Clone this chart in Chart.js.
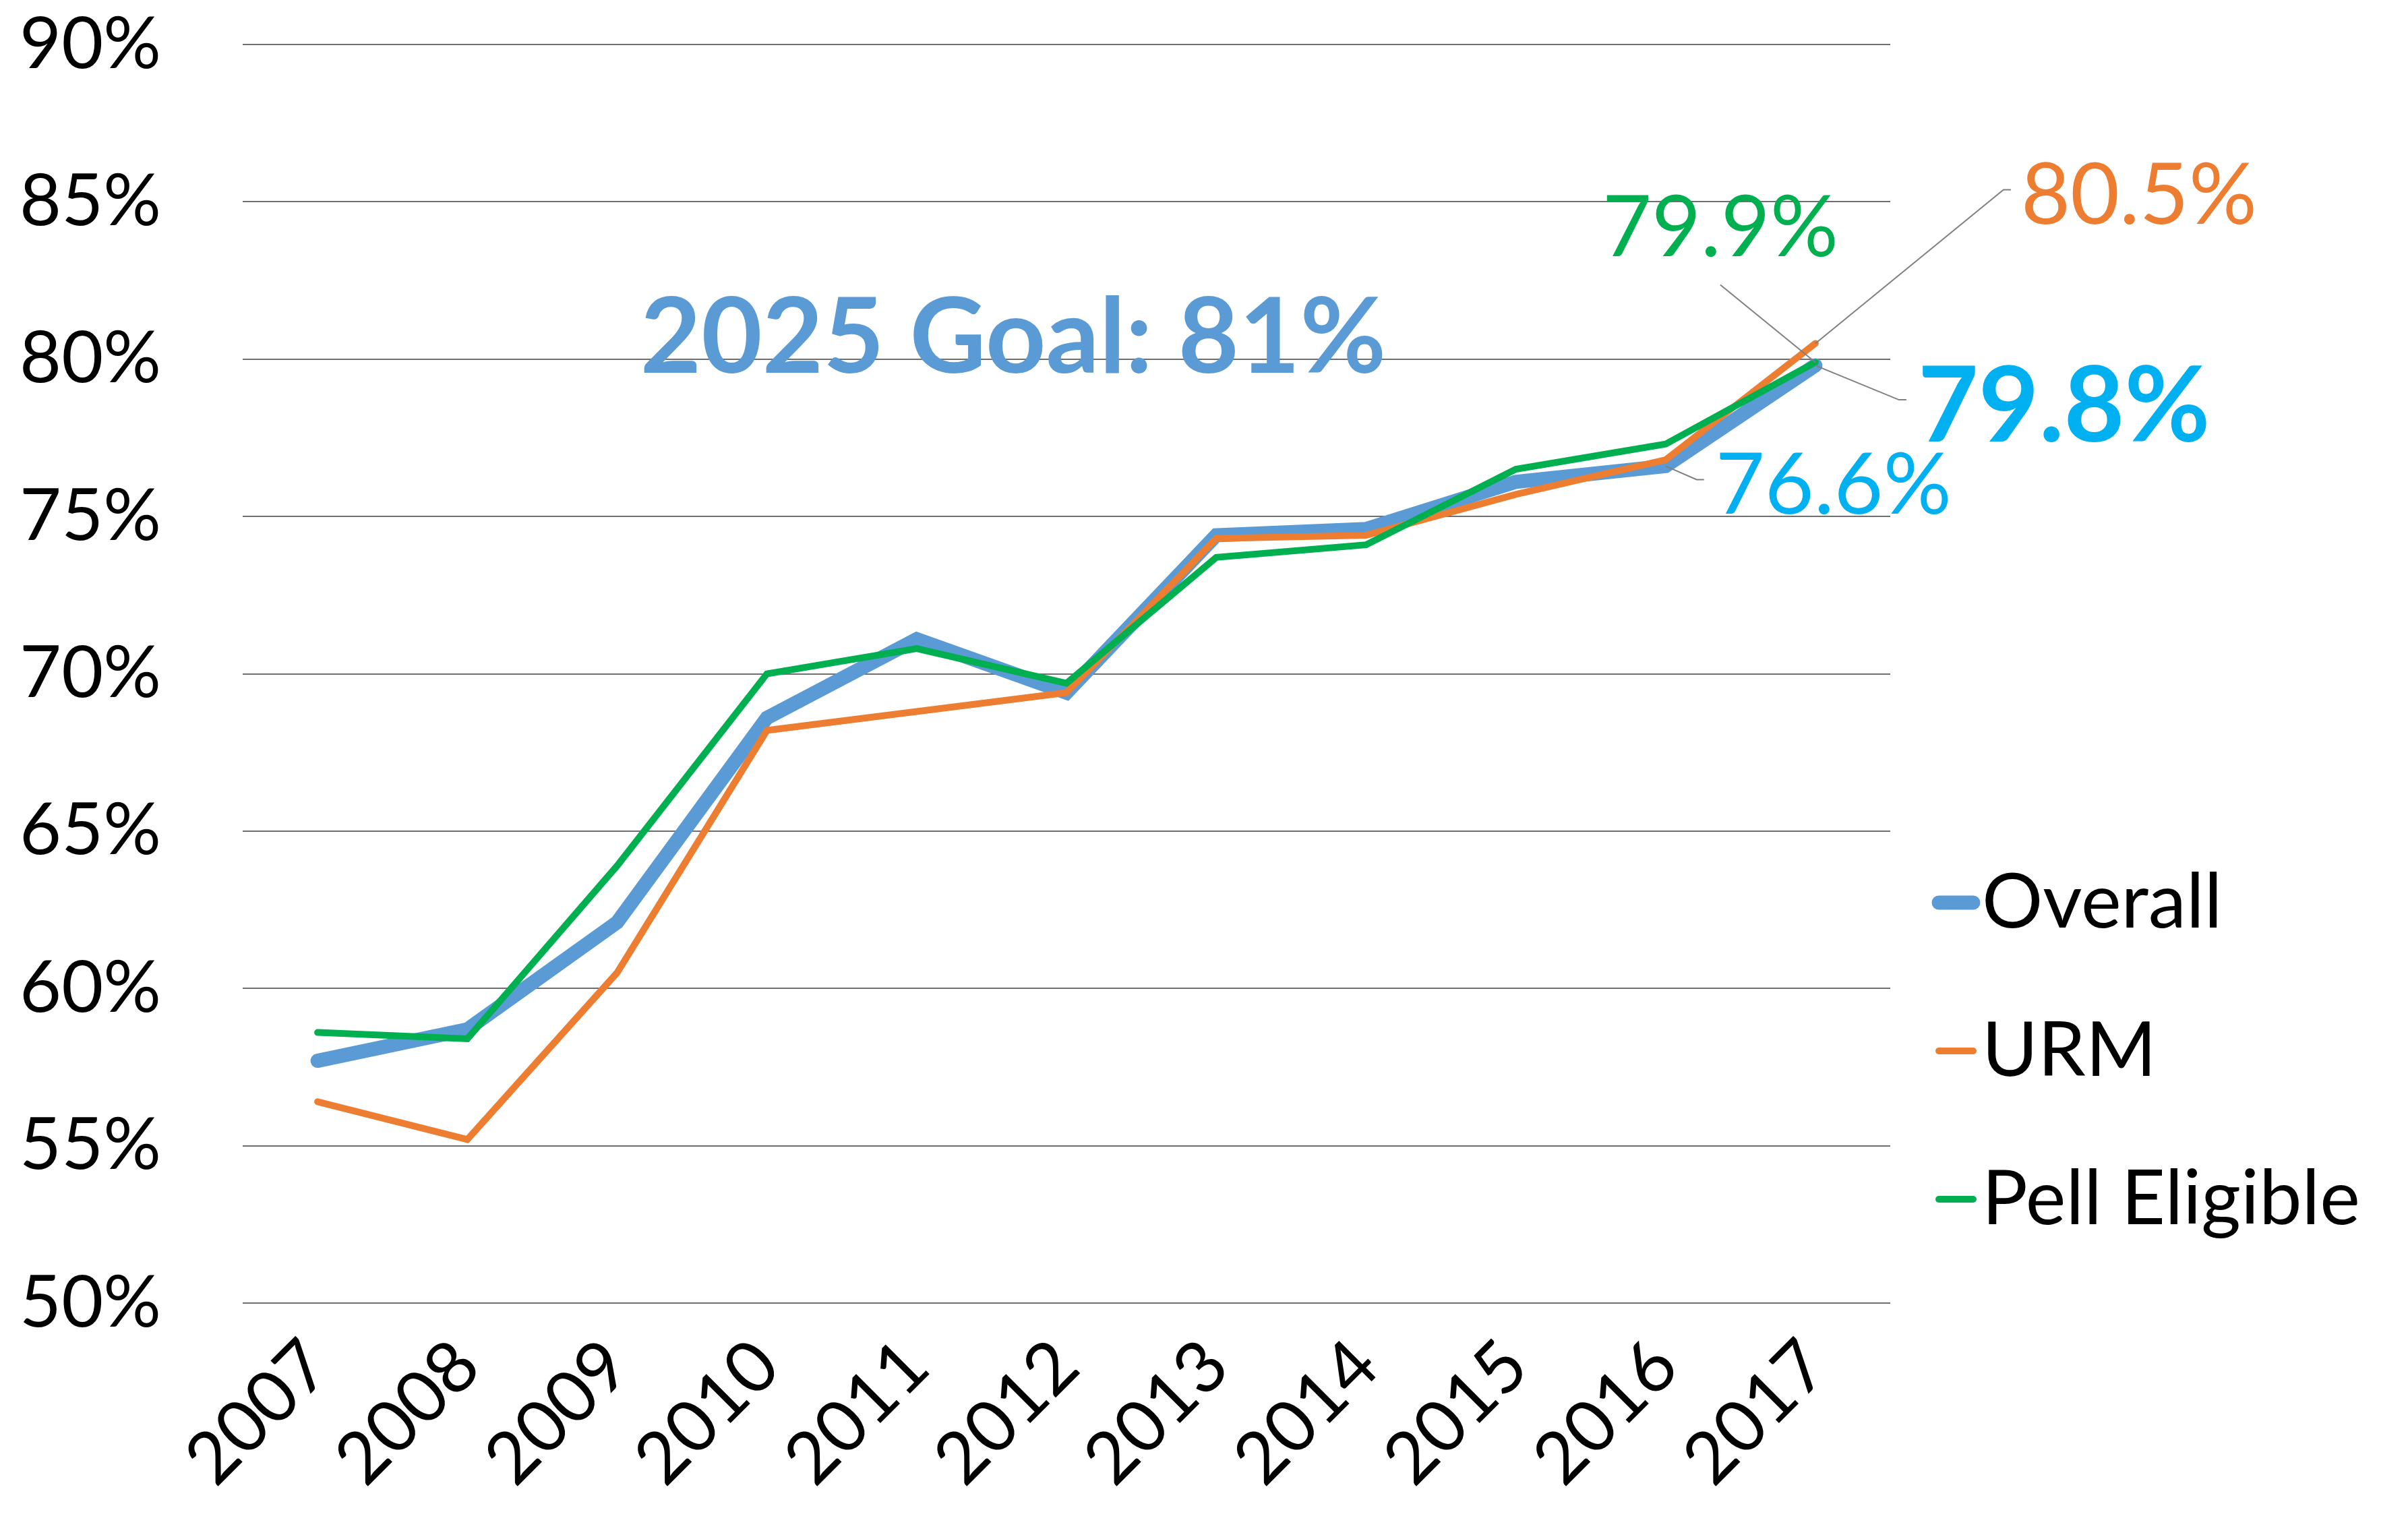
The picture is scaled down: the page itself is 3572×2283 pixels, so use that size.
<!DOCTYPE html>
<html>
<head>
<meta charset="utf-8">
<script src="https://cdn.jsdelivr.net/npm/chart.js@4/dist/chart.umd.min.js"></script>
<style>
html,body{margin:0;padding:0;background:#fff;}
#wrap{width:3572px;height:2283px;position:relative;}
</style>
</head>
<body>
<div id="wrap"><canvas id="c" width="3572" height="2283"></canvas></div>
<script>
// ---- data ----
const years = ['2007','2008','2009','2010','2011','2012','2013','2014','2015','2016','2017'];
const overall = [57.7, 58.7, 62.1, 68.6, 71.1, 69.4, 74.4, 74.6, 76.1, 76.6, 79.8];
const urm     = [56.4, 55.2, 60.5, 68.2, 68.8, 69.4, 74.3, 74.4, 75.7, 76.8, 80.5];
const pell    = [58.6, 58.4, 63.9, 70.0, 70.8, 69.7, 73.7, 74.1, 76.5, 77.3, 79.9];
const seriesNames = ['Overall', 'URM', 'Pell Eligible'];
const yMin = 50, yMax = 90, yStep = 5;
const goalYear = '2025';
const goalValue = 81;

// ---- styles / layout ----
const FONT = 'Lato, "Noto Sans", sans-serif';
const colors = ['#5B9BD5', '#ED7D31', '#00B050'];
const widths = [21, 10, 10];

// data label specs: dataset index, point index, offsets relative to the point
const labelSpecs = [
  {ds:1, idx:10, dx:305, dy:-177, align:'left',   size:126, bold:false, color:'#ED7D31', leader:[[0,0],[279,-228],[290,-228]]},
  {ds:2, idx:10, dx:-141, dy:-157, align:'center', size:126, bold:false, color:'#00B050', leader:[[-141,-115],[0,0]]},
  {ds:0, idx:10, dx:152, dy:113, align:'left',    size:155, bold:true,  color:'#00B0F0', leader:[[0,0],[124,51],[135,51]]},
  {ds:0, idx:9,  dx:74,  dy:71,  align:'left',    size:126, bold:false, color:'#00B0F0', leader:[[0,0],[46,20],[57,20]]}
];

const annotPlugin = {
  id: 'annot',
  afterDatasetsDraw(chart) {
    const ctx = chart.ctx;
    const area = chart.chartArea;
    ctx.save();
    // leader lines + labels
    labelSpecs.forEach(s => {
      const pt = chart.getDatasetMeta(s.ds).data[s.idx];
      const v = chart.data.datasets[s.ds].data[s.idx];
      ctx.strokeStyle = '#7F7F7F';
      ctx.lineWidth = 2;
      ctx.beginPath();
      s.leader.forEach((p, i) => {
        const x = pt.x + p[0], y = pt.y + p[1];
        if (i === 0) ctx.moveTo(x, y); else ctx.lineTo(x, y);
      });
      ctx.stroke();
      ctx.fillStyle = s.color;
      ctx.font = (s.bold ? 'bold ' : '') + s.size + 'px ' + FONT;
      ctx.textAlign = s.align;
      ctx.textBaseline = 'alphabetic';
      ctx.fillText(v.toFixed(1) + '%', pt.x + s.dx, pt.y + s.dy);
    });
    // goal text
    const ys = chart.scales.y;
    ctx.fillStyle = '#5B9BD5';
    ctx.font = 'bold 156px ' + FONT;
    ctx.textAlign = 'center';
    ctx.textBaseline = 'alphabetic';
    ctx.fillText(goalYear + ' Goal: ' + goalValue + '%', area.left + area.width * 0.4677, ys.getPixelForValue(goalValue) + 67);
    // legend
    const bottom = area.bottom;
    const base = [bottom - 557, bottom - 337, bottom - 117];
    chart.data.datasets.forEach((d, i) => {
      ctx.strokeStyle = d.borderColor;
      ctx.lineWidth = d.borderWidth;
      ctx.lineCap = 'round';
      ctx.beginPath();
      ctx.moveTo(area.right + 72, base[i] - 37);
      ctx.lineTo(area.right + 123, base[i] - 37);
      ctx.stroke();
      ctx.fillStyle = '#000';
      ctx.font = '113px ' + FONT;
      ctx.textAlign = 'left';
      ctx.fillText(d.label, area.right + 136, base[i]);
    });
    ctx.restore();
  }
};

function draw() {
  const ds = [overall, urm, pell].map((arr, i) => ({
    label: seriesNames[i],
    data: arr,
    borderColor: colors[i],
    backgroundColor: colors[i],
    borderWidth: widths[i],
    order: 3 - i,
    pointRadius: 0,
    pointHoverRadius: 0,
    tension: 0,
    fill: false,
    borderCapStyle: 'round',
    borderJoinStyle: 'miter'
  }));
  new Chart(document.getElementById('c'), {
    type: 'line',
    data: { labels: years, datasets: ds },
    options: {
      responsive: false,
      animation: false,
      devicePixelRatio: 1,
      layout: { padding: { top: 66, right: 768, bottom: 0, left: 0 } },
      plugins: { legend: { display: false }, tooltip: { enabled: false } },
      scales: {
        x: {
          offset: true,
          grid: { display: false, drawTicks: false },
          border: { display: false },
          ticks: { minRotation: 45, maxRotation: 45, color: '#000', padding: 30,
                   font: { family: FONT, size: 107 } },
          afterFit(s) { s.height = 350; s.paddingLeft = 0; s.paddingRight = 0; }
        },
        y: {
          min: yMin, max: yMax,
          ticks: { stepSize: yStep, color: '#000', padding: 121,
                   font: { family: FONT, size: 107 },
                   callback: v => v + '%' },
          grid: { color: '#6F6F6F', lineWidth: 2, drawTicks: false },
          border: { display: false },
          afterFit(s) { s.width = 360; s.paddingTop = 0; s.paddingBottom = 0; }
        }
      }
    },
    plugins: [annotPlugin]
  });
}

Promise.all([
  document.fonts.load('107px Lato'),
  document.fonts.load('bold 156px Lato')
]).then(draw, draw);
</script>
</body>
</html>
